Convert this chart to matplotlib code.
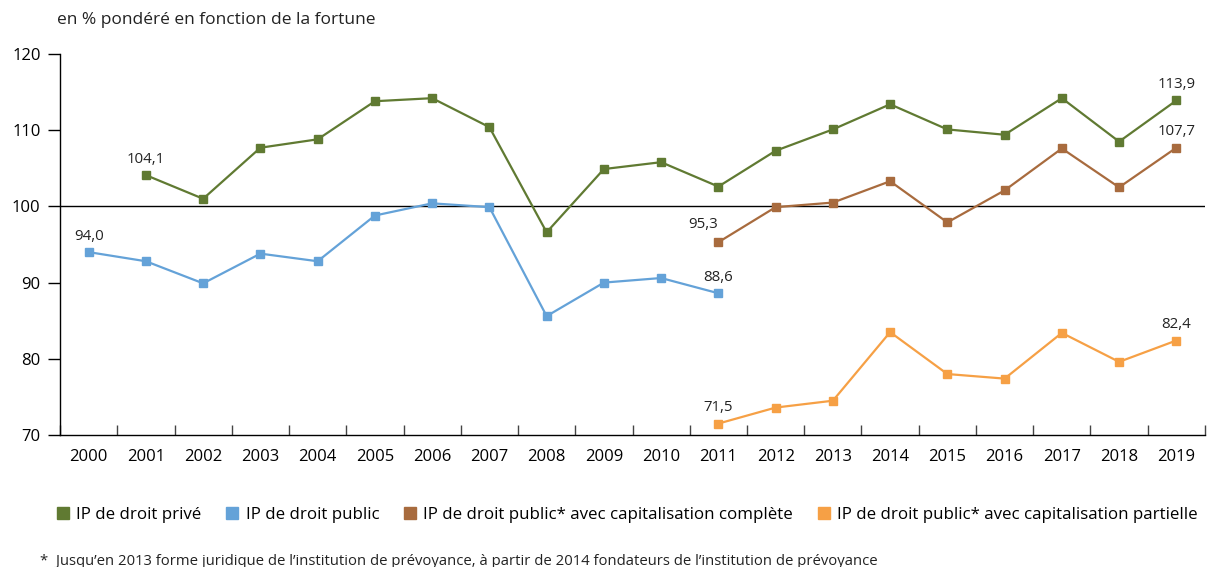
import matplotlib
matplotlib.use("Agg")
import matplotlib.pyplot as plt
from matplotlib.lines import Line2D

plt.rcParams["font.family"] = ["Open Sans", "DejaVu Sans"]

years = list(range(2000, 2020))

prive_years = list(range(2001, 2020))
prive = [104.1, 101.0, 107.7, 108.8, 113.8, 114.2, 110.4, 96.6, 104.9, 105.8,
         102.6, 107.3, 110.1, 113.4, 110.1, 109.4, 114.2, 108.5, 113.9]

public_years = list(range(2000, 2012))
public = [94.0, 92.8, 89.9, 93.8, 92.8, 98.8, 100.4, 99.9, 85.6, 90.0, 90.6, 88.6]

complete_years = list(range(2011, 2020))
complete = [95.3, 99.9, 100.5, 103.3, 97.9, 102.1, 107.6, 102.5, 107.7]

partielle_years = list(range(2011, 2020))
partielle = [71.5, 73.6, 74.5, 83.5, 78.0, 77.4, 83.4, 79.6, 82.4]

labels = [
    "IP de droit privé",
    "IP de droit public",
    "IP de droit public* avec capitalisation complète",
    "IP de droit public* avec capitalisation partielle",
]
colors = ["#607a32", "#64a2d8", "#a86b3e", "#f6a045"]

fig = plt.figure(figsize=(12.08, 5.67), dpi=100)
ax = fig.add_axes([0.0497, 0.2328, 0.9478, 0.672])

series = [
    (prive_years, prive),
    (public_years, public),
    (complete_years, complete),
    (partielle_years, partielle),
]
for (xs, ys), c in zip(series, colors):
    ax.plot(xs, ys, color=c, lw=1.6, marker="s", ms=6, mec=c, zorder=3)

ax.axhline(100, color="black", lw=1.0, zorder=2)

# value labels
txt = dict(fontsize=10.8, color="#222222", ha="center", va="bottom")
ax.annotate("104,1", (2001, 104.1), xytext=(0, 6), textcoords="offset points", **txt)
ax.annotate("113,9", (2019, 113.9), xytext=(0, 6), textcoords="offset points", **txt)
ax.annotate("94,0", (2000, 94.0), xytext=(0, 6), textcoords="offset points", **txt)
ax.annotate("88,6", (2011, 88.6), xytext=(0, 6), textcoords="offset points", **txt)
ax.annotate("95,3", (2011, 95.3), xytext=(-11, 7), textcoords="offset points", **txt)
ax.annotate("107,7", (2019, 107.7), xytext=(0, 6), textcoords="offset points", **txt)
ax.annotate("71,5", (2011, 71.5), xytext=(0, 6), textcoords="offset points", **txt)
ax.annotate("82,4", (2019, 82.4), xytext=(0, 6), textcoords="offset points", **txt)

ax.set_xlim(1999.5, 2019.5)
ax.set_ylim(70, 120)
ax.set_yticks([70, 80, 90, 100, 110, 120])
ax.tick_params(axis="y", length=9, width=1, direction="out", labelsize=12, pad=5)

ax.set_xticks(years)
ax.set_xticklabels([str(y) for y in years])
ax.tick_params(axis="x", which="major", length=0, labelsize=12, pad=10)
ax.set_xticks([y + 0.5 for y in years[:-1]] + [1999.5, 2019.5], minor=True)
ax.tick_params(axis="x", which="minor", length=7, width=1, direction="in", color="#444444")

for s in ["top", "right"]:
    ax.spines[s].set_visible(False)
for s in ["left", "bottom"]:
    ax.spines[s].set_linewidth(1.0)

fig.text(0.047, 0.965, "en % pondéré en fonction de la fortune", fontsize=12.5, va="center", color="#222222")

handles = [Line2D([0], [0], marker="s", color="w", markerfacecolor=c, markeredgecolor=c,
                  markersize=9, label=l) for c, l in zip(colors, labels)]
fig.legend(handles=handles, loc="center left", bbox_to_anchor=(0.0464, 0.0917), ncol=4,
           frameon=False, fontsize=12.2, handletextpad=0.4, columnspacing=1.4, handlelength=0.8,
           borderaxespad=0, borderpad=0)

fig.text(0.033, 0.012 - 0.016, "*  Jusqu\u2019en 2013 forme juridique de l\u2019institution de prévoyance, "
         "à partir de 2014 fondateurs de l\u2019institution de prévoyance",
         fontsize=10.7, va="bottom", color="#222222")

fig.savefig("out.png", dpi=100)
